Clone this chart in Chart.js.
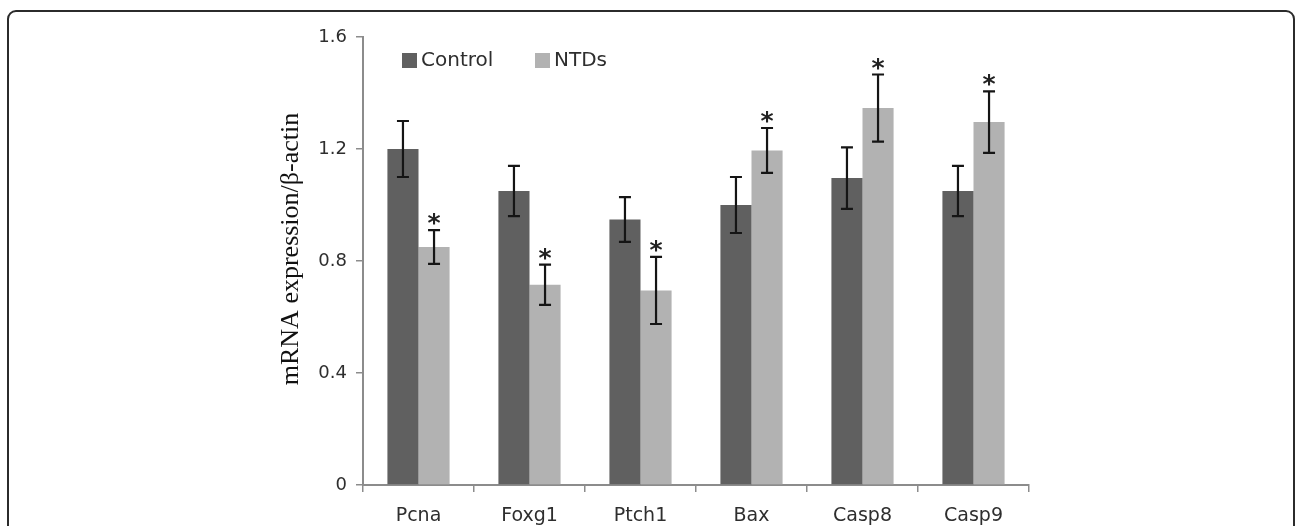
<!DOCTYPE html>
<html>
<head>
<meta charset="utf-8">
<script src="https://cdn.jsdelivr.net/npm/chart.js@4.4.1/dist/chart.umd.min.js"></script>
<style>
  html, body { margin: 0; padding: 0; background: #fff; overflow: hidden; }
  #frame { position: absolute; left: 7px; top: 10px; width: 1288px; height: 560px; border: 2px solid #2b2b2b; border-radius: 9px; box-sizing: border-box; }
  #wrap { position: absolute; left: 0; top: 0; width: 1295px; height: 526px; }
</style>
</head>
<body>
<div id="frame"></div>
<div id="wrap"><canvas id="chart"></canvas></div>
<script>
const categories = ["Pcna", "Foxg1", "Ptch1", "Bax", "Casp8", "Casp9"];
const control = [1.2, 1.05, 0.948, 1.0, 1.096, 1.05];
const controlErr = [0.1, 0.09, 0.08, 0.1, 0.11, 0.09];
const ntds = [0.85, 0.715, 0.695, 1.195, 1.346, 1.296];
const ntdsErr = [0.06, 0.072, 0.12, 0.08, 0.12, 0.11];
const significant = [true, true, true, true, true, true];
const yTicks = [0, 0.4, 0.8, 1.2, 1.6];
const yTitle = "mRNA expression/β-actin";

const errors = [controlErr, ntdsErr];
const axisGrey = "#8c8c8c";
const textGrey = "#2e2e2e";

const extras = {
  id: "extras",
  afterDatasetsDraw(chart) {
    const { ctx, scales: { y } } = chart;
    ctx.save();
    ctx.strokeStyle = "#151515";
    ctx.lineWidth = 2.2;
    chart.data.datasets.forEach((ds, i) => {
      chart.getDatasetMeta(i).data.forEach((bar, j) => {
        const v = ds.data[j], e = errors[i][j];
        const top = y.getPixelForValue(v + e), bottom = y.getPixelForValue(v - e);
        ctx.beginPath();
        ctx.moveTo(bar.x, top); ctx.lineTo(bar.x, bottom);
        ctx.moveTo(bar.x - 6, top); ctx.lineTo(bar.x + 6, top);
        ctx.moveTo(bar.x - 6, bottom); ctx.lineTo(bar.x + 6, bottom);
        ctx.stroke();
        if (i === 1 && significant[j]) {
          ctx.fillStyle = "#222";
          ctx.font = "bold 25px 'DejaVu Sans'";
          ctx.textAlign = "center";
          ctx.textBaseline = "alphabetic";
          ctx.fillText("*", bar.x, top + 1);
        }
      });
    });
    ctx.restore();
  },
  afterDraw(chart) {
    const { ctx, chartArea } = chart;
    ctx.save();
    // legend
    const spots = [402, 535];
    ctx.font = "20px 'DejaVu Sans'";
    ctx.textBaseline = "middle";
    ctx.textAlign = "left";
    chart.data.datasets.forEach((ds, i) => {
      ctx.fillStyle = ds.backgroundColor;
      ctx.fillRect(spots[i], 53, 15, 15);
      ctx.fillStyle = textGrey;
      ctx.fillText(ds.label, spots[i] + 19, 61);
    });
    // y title
    ctx.translate(291, (chartArea.top + chartArea.bottom) / 2 - 12);
    ctx.rotate(-Math.PI / 2);
    ctx.font = "26px 'Liberation Serif'";
    ctx.fillStyle = "#111";
    ctx.textAlign = "center";
    ctx.textBaseline = "middle";
    ctx.fillText(yTitle, 0, 0);
    ctx.restore();
  }
};

new Chart(document.querySelector("#chart"), {
  type: "bar",
  data: {
    labels: categories,
    datasets: [
      { label: "Control", data: control, backgroundColor: "#606060", borderWidth: 0, categoryPercentage: 0.56, barPercentage: 1 },
      { label: "NTDs", data: ntds, backgroundColor: "#b2b2b2", borderWidth: 0, categoryPercentage: 0.56, barPercentage: 1 }
    ]
  },
  options: {
    responsive: true,
    maintainAspectRatio: false,
    animation: false,
    devicePixelRatio: 1,
    layout: { padding: { left: 270, right: 266, top: 37, bottom: 0 } },
    plugins: { legend: { display: false }, tooltip: { enabled: false } },
    scales: {
      x: {
        afterFit: (s) => { s.height = 41; },
        grid: { drawOnChartArea: false, tickLength: 7, color: axisGrey, lineWidth: 1.5 },
        border: { color: axisGrey, width: 2 },
        ticks: { color: textGrey, font: { family: "DejaVu Sans", size: 19 }, padding: 13, maxRotation: 0 }
      },
      y: {
        min: 0,
        max: 1.6,
        afterFit: (s) => { s.width = 93; },
        afterBuildTicks: (s) => { s.ticks = yTicks.map((value) => ({ value })); },
        grid: { drawOnChartArea: false, tickLength: 7, color: axisGrey, lineWidth: 1.5 },
        border: { color: axisGrey, width: 2 },
        ticks: { color: textGrey, font: { family: "DejaVu Sans", size: 18 }, padding: 9 }
      }
    }
  },
  plugins: [extras]
});
</script>
</body>
</html>
